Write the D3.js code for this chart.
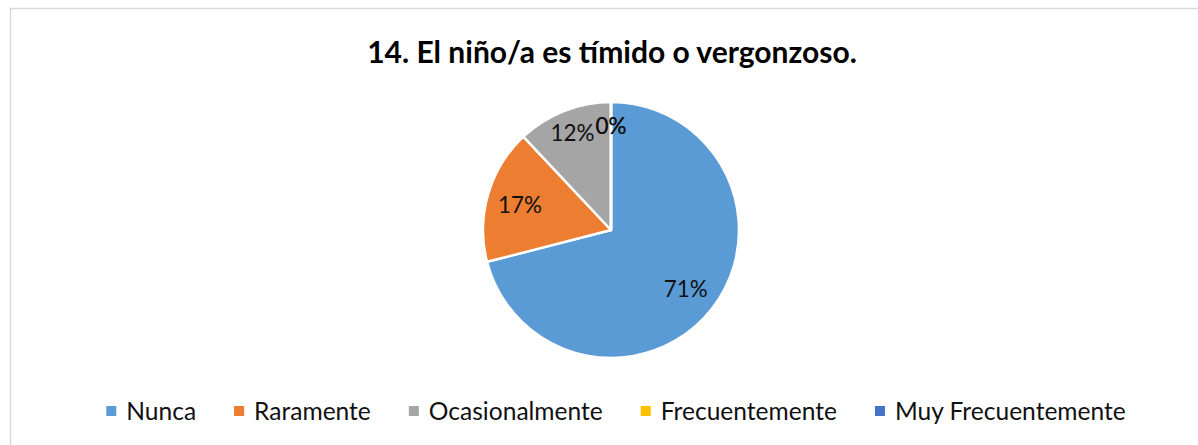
<!DOCTYPE html>
<html lang="es">
<head>
<meta charset="UTF-8">
<script src="https://d3js.org/d3.v7.min.js"></script>
<title>14. El niño/a es tímido o vergonzoso.</title>
<style>
  body { margin: 0; background: #fff; }
  text { font-family: Lato, "Open Sans", sans-serif; }
</style>
</head>
<body>
<div id="container"></div>
<script>
const categories = ['Nunca', 'Raramente', 'Ocasionalmente', 'Frecuentemente', 'Muy Frecuentemente'];
const percents = [71, 17, 12, 0, 0];
const colors = ['#5B9BD5', '#ED7D31', '#A5A5A5', '#FFC000', '#4472C4'];
const title = '14. El niño/a es tímido o vergonzoso.';

const width = 1198;
const height = 445;
const cx = 611, cy = 230, radius = 128;

const svg = d3.select('#container')
    .append('svg')
    .attr('width', width)
    .attr('height', height);

// chart frame (right and bottom edges fall outside the picture)
svg.append('rect')
    .attr('x', 10.5).attr('y', 8.5)
    .attr('width', 1230).attr('height', 460)
    .attr('fill', 'white')
    .attr('stroke', '#d9d9d9')
    .attr('stroke-width', 1.5);

// fit a text element's font size to a target width
function fitWidth(sel, size, target) {
    const w = sel.node().getComputedTextLength();
    const s = size * target / w;
    sel.style('font-size', s + 'px');
    return s;
}

const t = svg.append('text')
    .attr('x', 612).attr('y', 63)
    .attr('text-anchor', 'middle')
    .style('font-weight', 'bold')
    .style('font-size', '22px')
    .style('fill', '#000')
    .text(title);
fitWidth(t, 22, 490);

const total = d3.sum(percents);
const pie = d3.pie().sort(null).value(d => d)(percents);
const arc = d3.arc().innerRadius(0).outerRadius(radius);

const g = svg.append('g').attr('transform', `translate(${cx},${cy})`);

g.selectAll('path')
    .data(pie)
    .enter()
    .append('path')
    .attr('d', arc)
    .attr('fill', (d, i) => colors[i])
    .attr('stroke', 'white')
    .attr('stroke-width', 2.5)
    .attr('stroke-linejoin', 'round');

// label size measured against "71%" (44px wide in the original)
const probe = svg.append('text').style('font-size', '20px').text('71%');
const labelSize = fitWidth(probe, 20, 44);
probe.remove();

g.selectAll('text.lbl')
    .data(pie)
    .enter()
    .append('text')
    .attr('class', 'lbl')
    .attr('transform', d => {
        const share = d.value / total;
        const r = share < 0.15 ? radius * 0.82 : radius * 0.74;
        const c = d3.arc().innerRadius(r).outerRadius(r).centroid(d);
        return `translate(${c[0]},${c[1]})`;
    })
    .attr('text-anchor', 'middle')
    .attr('dy', '0.4em')
    .style('font-size', labelSize + 'px')
    .style('fill', '#111')
    .text(d => Math.round(d.value / total * 100) + '%');

// legend: font sized so "Ocasionalmente" is ~174px as in the original
const probe2 = svg.append('text').style('font-size', '20px').text('Ocasionalmente');
const legendSize = fitWidth(probe2, 20, 174);
probe2.remove();

const legend = svg.append('g');
const items = legend.selectAll('g')
    .data(categories)
    .enter()
    .append('g');
items.append('rect')
    .attr('width', 10).attr('height', 10)
    .attr('y', -5)
    .attr('fill', (d, i) => colors[i]);
items.append('text')
    .attr('x', 20)
    .attr('dy', '0.35em')
    .style('font-size', legendSize + 'px')
    .style('fill', '#111')
    .text(d => d);

const gap = 38;
let x = 0;
items.each(function() {
    const w = d3.select(this).select('text').node().getComputedTextLength();
    d3.select(this).attr('transform', `translate(${x},0)`);
    x += 20 + w + gap;
});
const legendWidth = x - gap;
legend.attr('transform', `translate(${616 - legendWidth / 2},411)`);
</script>
</body>
</html>
